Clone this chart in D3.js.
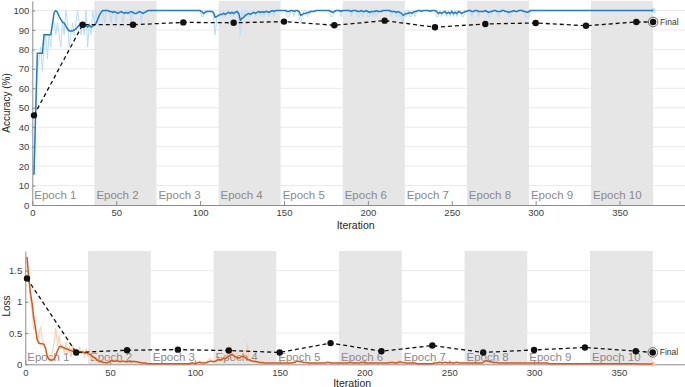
<!DOCTYPE html>
<html>
<head>
<meta charset="utf-8">
<script src="https://cdn.jsdelivr.net/npm/d3@7"></script>
<style>
  body { margin: 0; background: #fff; }
  svg { display: block; font-family: "Liberation Sans", Arial, sans-serif; }
</style>
</head>
<body>
<svg id="chart" width="685" height="387"></svg>
<script>
// --- Data ---
const epochStarts = [0, 37, 74, 111, 148, 185, 222, 259, 296, 333];
const epochEnd = 370;
const epochNames = ["Epoch 1", "Epoch 2", "Epoch 3", "Epoch 4", "Epoch 5",
                    "Epoch 6", "Epoch 7", "Epoch 8", "Epoch 9", "Epoch 10"];
const xTicks = [0, 50, 100, 150, 200, 250, 300, 350];
const accTicks = [0, 10, 20, 30, 40, 50, 60, 70, 80, 90, 100];
const lossTicks = [0, 0.5, 1, 1.5];

// mini-batch accuracy, one value per iteration (1..370)
const accRaw = [
  15.6, 43.75, 68.75, 75, 81.25, 68.75, 81.25, 87.5, 75, 87.5, 81.25, 93.75, 93.75, 87.5, 93.75, 87.5, 81.25, 93.75, 87.5, 100, 93.75, 81.25, 87.5, 93.75, 87.5, 93.75, 100, 93.75, 87.5, 93.75, 87.5, 100, 81.25, 93.75, 87.5, 100, 93.75,
  100, 93.75, 100, 100, 100, 93.75, 100, 100, 100, 93.75, 100, 100, 93.75, 100, 100, 100, 93.75, 100, 100, 100, 100, 93.75, 100, 100, 100, 100, 100, 93.75, 100, 100, 100, 100, 100, 100, 100, 100, 100,
  100, 100, 100, 100, 100, 100, 100, 100, 100, 100, 100, 100, 100, 100, 100, 100, 100, 100, 100, 100, 100, 100, 100, 100, 100, 100, 96.875, 96.875, 100, 100, 100, 100, 100, 96.875, 87.5, 96.875, 96.875,
  100, 96.875, 100, 96.875, 100, 100, 96.875, 100, 96.875, 100, 100, 96.875, 87.5, 100, 96.875, 100, 100, 96.875, 96.875, 100, 100, 96.875, 100, 100, 96.875, 100, 96.875, 100, 100, 96.875, 100, 100, 96.875, 100, 100, 100, 100,
  100, 100, 100, 96.875, 96.875, 100, 100, 96.875, 100, 100, 96.875, 93.75, 96.875, 100, 100, 96.875, 100, 100, 100, 100, 100, 100, 100, 100, 100, 100, 100, 100, 100, 96.875, 96.875, 100, 100, 100, 100, 96.875, 100,
  100, 100, 100, 100, 96.875, 100, 100, 100, 96.875, 96.875, 100, 96.875, 100, 100, 96.875, 96.875, 100, 96.875, 100, 96.875, 100, 100, 100, 100, 100, 100, 100, 100, 96.875, 100, 100, 96.875, 100, 96.875, 96.875, 93.75, 100,
  96.875, 100, 96.875, 96.875, 100, 96.875, 100, 100, 100, 100, 100, 100, 100, 100, 100, 100, 100, 100, 96.875, 96.875, 100, 96.875, 100, 100, 96.875, 100, 96.875, 100, 96.875, 100, 96.875, 100, 100, 96.875, 96.875, 100, 100,
  100, 100, 96.875, 100, 100, 100, 96.875, 100, 100, 100, 100, 100, 96.875, 96.875, 100, 100, 100, 100, 96.875, 100, 100, 100, 100, 100, 96.875, 96.875, 100, 100, 100, 100, 100, 100, 100, 100, 96.875, 96.875, 96.875,
  100, 100, 100, 100, 100, 100, 100, 100, 100, 100, 100, 100, 100, 100, 100, 100, 100, 100, 100, 100, 100, 100, 100, 100, 100, 100, 100, 100, 100, 100, 100, 100, 100, 100, 100, 100, 100,
  100, 100, 100, 100, 100, 100, 100, 100, 100, 100, 100, 100, 100, 100, 100, 100, 100, 100, 100, 100, 100, 100, 100, 100, 100, 100, 100, 100, 100, 100, 100, 100, 100, 100, 100, 100, 100
];

// smoothed accuracy
const accSmooth = [
  15.6, 48, 78, 78, 78, 78, 87.5, 87.5, 87.5, 87.5, 87.5, 93, 99, 100, 99, 97, 95.5, 94, 93.5, 92, 90.5, 89.5, 89.5, 89.5, 90, 90.5, 91.5, 92.5, 92.5, 92.5, 91.5, 92.5, 91.5, 92.5, 91.5, 92, 92.5,
  93.5, 95.5, 97.5, 99, 100, 100, 100, 100, 99.5, 99.5, 99, 99.5, 99, 98.5, 99, 99.5, 99, 98.5, 99, 98.5, 99, 99.5, 99, 98.5, 98.5, 99, 99.5, 99, 98.5, 99, 99.5, 100, 100, 100, 100, 100, 100,
  100, 100, 100, 100, 100, 100, 100, 100, 100, 100, 100, 100, 100, 100, 100, 100, 100, 100, 100, 100, 100, 100, 100, 100, 100, 100, 99.5, 98.5, 99, 99.5, 99.5, 99.5, 99.5, 99, 96.5, 97, 97.5,
  98, 98, 98.5, 98, 98.5, 99, 98.5, 99, 98.5, 99, 99.5, 98.5, 95, 96, 96.5, 97.5, 98, 98.5, 98, 98.5, 99, 98.5, 99, 99.5, 99, 99.5, 99, 99.5, 99.5, 99, 99.5, 100, 99.5, 100, 100, 100, 100,
  100, 100, 100, 99.5, 99.5, 100, 100, 99.5, 100, 100, 99.5, 97.5, 98, 98.5, 98.5, 99, 99, 99.5, 99.5, 99.5, 100, 100, 100, 100, 100, 100, 100, 100, 100, 99.5, 99, 99.5, 100, 100, 100, 99.5, 100,
  100, 100, 100, 100, 99.5, 100, 100, 100, 99.5, 99.5, 100, 99.5, 99.5, 100, 99.5, 99, 99.5, 99.5, 99.5, 100, 99.5, 99.5, 99.5, 100, 100, 100, 100, 100, 99.5, 99.5, 99.5, 99, 99.5, 99, 98.5, 97.5, 98,
  98.5, 98.5, 99, 98.5, 99, 99.5, 99.5, 100, 100, 99.5, 100, 100, 100, 100, 99.5, 100, 100, 100, 99.5, 98.5, 99, 98.5, 99, 99.5, 98.5, 99, 98.5, 99.5, 98.5, 99, 98.5, 99.5, 99, 98.5, 99, 99.5, 99.5,
  100, 100, 99.5, 99.5, 100, 100, 99.5, 99.5, 99.5, 99.5, 100, 99.5, 99, 99.5, 99.5, 100, 100, 99.5, 99.5, 99.5, 100, 100, 99.5, 99.5, 99, 99.5, 99.5, 100, 99.5, 99.5, 100, 100, 100, 99.5, 99.5, 99, 99.5,
  100, 100, 100, 100, 100, 100, 100, 100, 100, 100, 100, 100, 100, 100, 100, 100, 100, 100, 100, 100, 100, 100, 100, 100, 100, 100, 100, 100, 100, 100, 100, 100, 100, 100, 100, 100, 100,
  100, 100, 100, 100, 100, 100, 100, 100, 100, 100, 100, 100, 100, 100, 100, 100, 100, 100, 100, 100, 100, 100, 100, 100, 100, 100, 100, 100, 100, 100, 100, 100, 100, 100, 100, 100, 100
];

// mini-batch loss
const lossRaw = [
  1.72, 1.35, 1.05, 0.85, 0.55, 0.62, 0.35, 0.48, 0.6, 0.4, 0.3, 0.25, 0.1, 0.15, 0.05, 0.2, 0.35, 0.58, 0.3, 0.45, 0.25, 0.3, 0.18, 0.35, 0.15, 0.28, 0.12, 0.3, 0.18, 0.25, 0.12, 0.28, 0.15, 0.22, 0.1, 0.25, 0.12,
  0.25, 0.08, 0.18, 0.05, 0.12, 0.02, 0.08, 0.01, 0.05, 0.02, 0.01, 0.06, 0.1, 0.04, 0.03, 0.08, 0.05, 0.02, 0.06, 0.07, 0.03, 0.05, 0.04, 0.07, 0.02, 0.06, 0.05, 0.03, 0.04, 0.02, 0.03, 0.01, 0.02, 0.01, 0.01, 0.01, 0.02,
  0.01, 0.01, 0.02, 0.01, 0.01, 0.01, 0.01, 0.01, 0.02, 0.01, 0.01, 0.01, 0.01, 0.01, 0.01, 0.02, 0.01, 0.01, 0.01, 0.01, 0.01, 0.02, 0.01, 0.03, 0.01, 0.02, 0.05, 0.01, 0.06, 0.02, 0.05, 0.02, 0.03, 0.08, 0.1, 0.03, 0.04,
  0.04, 0.1, 0.06, 0.12, 0.05, 0.15, 0.08, 0.18, 0.1, 0.31, 0.12, 0.08, 0.1, 0.2, 0.06, 0.12, 0.15, 0.08, 0.14, 0.34, 0.05, 0.06, 0.04, 0.03, 0.08, 0.02, 0.03, 0.04, 0.02, 0.01, 0.03, 0.02, 0.01, 0.02, 0.03, 0.01, 0.02,
  0.01, 0.02, 0.01, 0.02, 0.01, 0.01, 0.03, 0.02, 0.01, 0.04, 0.03, 0.09, 0.06, 0.03, 0.04, 0.02, 0.03, 0.02, 0.01, 0.02, 0.01, 0.01, 0.02, 0.01, 0.01, 0.02, 0.01, 0.01, 0.02, 0.05, 0.03, 0.01, 0.02, 0.01, 0.01, 0.02, 0.01,
  0.01, 0.02, 0.01, 0.01, 0.04, 0.02, 0.05, 0.01, 0.02, 0.01, 0.01, 0.02, 0.05, 0.04, 0.03, 0.01, 0.02, 0.01, 0.01, 0.02, 0.01, 0.01, 0.02, 0.01, 0.01, 0.01, 0.02, 0.01, 0.03, 0.04, 0.02, 0.05, 0.01, 0.02, 0.06, 0.05, 0.03,
  0.02, 0.03, 0.01, 0.02, 0.01, 0.02, 0.01, 0.01, 0.01, 0.01, 0.01, 0.01, 0.01, 0.01, 0.01, 0.01, 0.01, 0.01, 0.03, 0.02, 0.03, 0.06, 0.02, 0.01, 0.05, 0.04, 0.01, 0.05, 0.03, 0.01, 0.02, 0.05, 0.04, 0.01, 0.02, 0.03, 0.01,
  0.01, 0.02, 0.03, 0.01, 0.02, 0.01, 0.02, 0.01, 0.02, 0.01, 0.04, 0.09, 0.06, 0.03, 0.05, 0.02, 0.03, 0.02, 0.04, 0.01, 0.02, 0.01, 0.03, 0.02, 0.01, 0.02, 0.01, 0.03, 0.02, 0.01, 0.02, 0.01, 0.01, 0.02, 0.03, 0.02, 0.01,
  0.01, 0.02, 0.01, 0.03, 0.01, 0.01, 0.02, 0.01, 0.01, 0.01, 0.02, 0.01, 0.01, 0.01, 0.01, 0.02, 0.01, 0.01, 0.01, 0.01, 0.01, 0.02, 0.01, 0.01, 0.01, 0.01, 0.01, 0.01, 0.02, 0.01, 0.01, 0.01, 0.01, 0.01, 0.01, 0.01, 0.01,
  0.01, 0.01, 0.01, 0.01, 0.01, 0.02, 0.01, 0.01, 0.01, 0.01, 0.01, 0.01, 0.01, 0.01, 0.01, 0.01, 0.01, 0.01, 0.01, 0.01, 0.005, 0.01, 0.005, 0.01, 0.005, 0.005, 0.01, 0.005, 0.005, 0.005, 0.005, 0.005, 0.005, 0.005, 0.005, 0.005, 0.005
];

// smoothed loss
const lossSmooth = [
  1.72, 1.4, 1.15, 0.98, 0.75, 0.58, 0.4, 0.34, 0.33, 0.33, 0.32, 0.25, 0.12, 0.08, 0.07, 0.07, 0.09, 0.14, 0.22, 0.28, 0.29, 0.27, 0.26, 0.25, 0.24, 0.23, 0.22, 0.21, 0.2, 0.21, 0.19, 0.2, 0.19, 0.2, 0.18, 0.19, 0.17,
  0.16, 0.14, 0.12, 0.1, 0.08, 0.06, 0.05, 0.04, 0.03, 0.03, 0.02, 0.03, 0.05, 0.06, 0.05, 0.05, 0.06, 0.05, 0.04, 0.05, 0.05, 0.04, 0.04, 0.05, 0.04, 0.04, 0.05, 0.04, 0.04, 0.03, 0.03, 0.02, 0.02, 0.02, 0.01, 0.01, 0.01,
  0.01, 0.01, 0.01, 0.01, 0.01, 0.01, 0.01, 0.01, 0.01, 0.01, 0.01, 0.01, 0.01, 0.01, 0.01, 0.01, 0.01, 0.01, 0.01, 0.01, 0.01, 0.01, 0.01, 0.02, 0.02, 0.01, 0.02, 0.03, 0.03, 0.02, 0.02, 0.02, 0.03, 0.04, 0.05, 0.05, 0.04,
  0.05, 0.06, 0.08, 0.07, 0.08, 0.1, 0.09, 0.11, 0.13, 0.15, 0.16, 0.14, 0.12, 0.11, 0.1, 0.12, 0.13, 0.12, 0.1, 0.08, 0.07, 0.06, 0.05, 0.05, 0.04, 0.04, 0.03, 0.03, 0.03, 0.02, 0.02, 0.02, 0.02, 0.02, 0.02, 0.02, 0.02,
  0.02, 0.02, 0.02, 0.02, 0.02, 0.02, 0.02, 0.02, 0.02, 0.03, 0.03, 0.05, 0.05, 0.04, 0.04, 0.03, 0.03, 0.03, 0.02, 0.02, 0.02, 0.02, 0.02, 0.02, 0.02, 0.02, 0.02, 0.02, 0.02, 0.03, 0.03, 0.02, 0.02, 0.02, 0.02, 0.02, 0.02,
  0.02, 0.02, 0.02, 0.02, 0.02, 0.03, 0.03, 0.02, 0.02, 0.02, 0.02, 0.02, 0.03, 0.03, 0.03, 0.02, 0.02, 0.02, 0.02, 0.02, 0.02, 0.02, 0.02, 0.02, 0.02, 0.02, 0.02, 0.02, 0.02, 0.03, 0.03, 0.03, 0.02, 0.02, 0.03, 0.04, 0.03,
  0.03, 0.02, 0.02, 0.02, 0.02, 0.02, 0.02, 0.02, 0.01, 0.01, 0.01, 0.01, 0.01, 0.01, 0.01, 0.01, 0.01, 0.01, 0.02, 0.02, 0.02, 0.03, 0.03, 0.02, 0.03, 0.03, 0.02, 0.03, 0.03, 0.02, 0.02, 0.03, 0.03, 0.02, 0.02, 0.02, 0.02,
  0.02, 0.02, 0.02, 0.02, 0.02, 0.02, 0.02, 0.02, 0.02, 0.02, 0.03, 0.05, 0.06, 0.05, 0.04, 0.04, 0.03, 0.03, 0.03, 0.02, 0.02, 0.02, 0.02, 0.02, 0.02, 0.02, 0.02, 0.02, 0.02, 0.02, 0.02, 0.02, 0.02, 0.02, 0.02, 0.02, 0.02,
  0.02, 0.02, 0.02, 0.02, 0.02, 0.02, 0.02, 0.02, 0.02, 0.02, 0.02, 0.02, 0.01, 0.01, 0.01, 0.01, 0.01, 0.01, 0.01, 0.01, 0.01, 0.01, 0.01, 0.01, 0.01, 0.01, 0.01, 0.01, 0.01, 0.01, 0.01, 0.01, 0.01, 0.01, 0.01, 0.01, 0.01,
  0.01, 0.01, 0.01, 0.01, 0.01, 0.01, 0.01, 0.01, 0.01, 0.01, 0.01, 0.01, 0.01, 0.01, 0.01, 0.01, 0.01, 0.01, 0.01, 0.01, 0.01, 0.01, 0.01, 0.01, 0.01, 0.01, 0.01, 0.005, 0.005, 0.005, 0.005, 0.005, 0.005, 0.005, 0.005, 0.005, 0.005
];

// validation checkpoints
const valIter = [1, 30, 60, 90, 120, 150, 180, 210, 240, 270, 300, 330, 360, 370];
const valAcc  = [46.1, 92.7, 92.7, 93.9, 93.7, 94.3, 92.4, 94.8, 91.4, 93.1, 93.6, 92.2, 94.1, 94.1];
const valLoss = [1.376, 0.19, 0.226, 0.235, 0.22, 0.19, 0.34, 0.21, 0.30, 0.19, 0.23, 0.27, 0.21, 0.19];

// --- Drawing ---
const svg = d3.select("#chart");
const W = 685;

function drawPanel(p) {
  const x = d3.scaleLinear().domain([0, 389]).range([p.left, W]);
  const y = d3.scaleLinear().domain(p.yDomain).range([p.bottom, p.top]);
  const g = svg.append("g");

  // grid
  g.append("g").selectAll("line")
    .data(p.yTicks.filter(d => d !== 0))
    .join("line")
    .attr("x1", p.left).attr("x2", W)
    .attr("y1", d => y(d)).attr("y2", d => y(d))
    .attr("stroke", "#e9e9e9").attr("stroke-width", 1);

  // shaded even epochs
  g.append("g").selectAll("rect")
    .data(epochStarts.filter((d, i) => i % 2 === 1))
    .join("rect")
    .attr("x", d => x(d))
    .attr("width", d => x(d + 37) - x(d))
    .attr("y", p.top)
    .attr("height", p.bottom - p.top)
    .attr("fill", "#e6e6e6");

  // epoch labels
  g.append("g").selectAll("text")
    .data(epochStarts)
    .join("text")
    .attr("x", d => x(d) + 2)
    .attr("y", p.epochY)
    .attr("font-size", "11.5px")
    .attr("fill", "#8a8a8a")
    .text((d, i) => epochNames[i]);

  // axes
  const xAxis = g.append("g")
    .attr("transform", `translate(0,${p.bottom})`)
    .call(d3.axisBottom(x).tickValues(xTicks).tickSizeInner(-4).tickSizeOuter(0).tickPadding(4.5));
  const yAxis = g.append("g")
    .attr("transform", `translate(${p.left},0)`)
    .call(d3.axisLeft(y).tickValues(p.yTicks).tickSizeInner(-3).tickSizeOuter(0).tickPadding(3)
      .tickFormat(p.yFmt));
  [xAxis, yAxis].forEach(a => {
    a.attr("font-family", null).attr("font-size", "9.5px");
    a.select(".domain").attr("stroke", "#8c8c8c");
    a.selectAll(".tick line").attr("stroke", "#8c8c8c");
    a.selectAll(".tick text").attr("fill", "#404040");
  });

  // lines
  const line = d3.line().x((d, i) => x(i + 1)).y(d => y(d));
  g.append("path").datum(p.raw)
    .attr("d", line).attr("fill", "none")
    .attr("stroke", p.rawColor).attr("stroke-width", 1);
  g.append("circle")
    .attr("cx", x(p.raw.length)).attr("cy", y(p.raw[p.raw.length - 1]))
    .attr("r", 2.5).attr("fill", p.rawColor);
  g.append("path").datum(p.smooth)
    .attr("d", line).attr("fill", "none")
    .attr("stroke", p.smoothColor).attr("stroke-width", 1.5);

  // validation
  const vline = d3.line().x((d, i) => x(valIter[i])).y(d => y(d));
  g.append("path").datum(p.val)
    .attr("d", vline).attr("fill", "none")
    .attr("stroke", "#111").attr("stroke-width", 1.3)
    .attr("stroke-dasharray", "4,3");
  g.append("g").selectAll("circle")
    .data(p.val)
    .join("circle")
    .attr("cx", (d, i) => x(valIter[i]))
    .attr("cy", d => y(d))
    .attr("r", 3.2)
    .attr("fill", "#111");

  // final marker
  const fx = x(valIter[valIter.length - 1]);
  const fy = y(p.val[p.val.length - 1]);
  g.append("circle")
    .attr("cx", fx).attr("cy", fy).attr("r", 4.8)
    .attr("fill", "none").attr("stroke", "#666").attr("stroke-width", 1);
  g.append("text")
    .attr("x", fx + 7).attr("y", fy + 3)
    .attr("font-size", "8.5px").attr("fill", "#333")
    .text("Final");

  // axis titles
  g.append("text")
    .attr("x", (p.left + W) / 2 - 3).attr("y", p.xLabelY)
    .attr("text-anchor", "middle").attr("font-size", "10.5px").attr("fill", "#262626")
    .text("Iteration");
  g.append("text")
    .attr("transform", `translate(${p.yLabelX},${p.yLabelY}) rotate(-90)`)
    .attr("text-anchor", "middle").attr("font-size", "10px").attr("fill", "#262626")
    .text(p.yLabel);
}

drawPanel({
  left: 32.3, top: 0.8, bottom: 205,
  yDomain: [0, 105], yTicks: accTicks, yFmt: d3.format("d"),
  yLabel: "Accuracy (%)", yLabelX: 10, yLabelY: 103,
  raw: accRaw, smooth: accSmooth, val: valAcc,
  rawColor: "#b8ddf8", smoothColor: "#1f7bcc",
  epochY: 198.5, xLabelY: 228.5
});

drawPanel({
  left: 25.3, top: 251, bottom: 364.3,
  yDomain: [0, 1.815], yTicks: lossTicks, yFmt: d => d3.format("")(d),
  yLabel: "Loss", yLabelX: 10, yLabelY: 306,
  raw: lossRaw, smooth: lossSmooth, val: valLoss,
  rawColor: "#fbcca8", smoothColor: "#e0561a",
  epochY: 360.5, xLabelY: 386.5
});
</script>
</body>
</html>
